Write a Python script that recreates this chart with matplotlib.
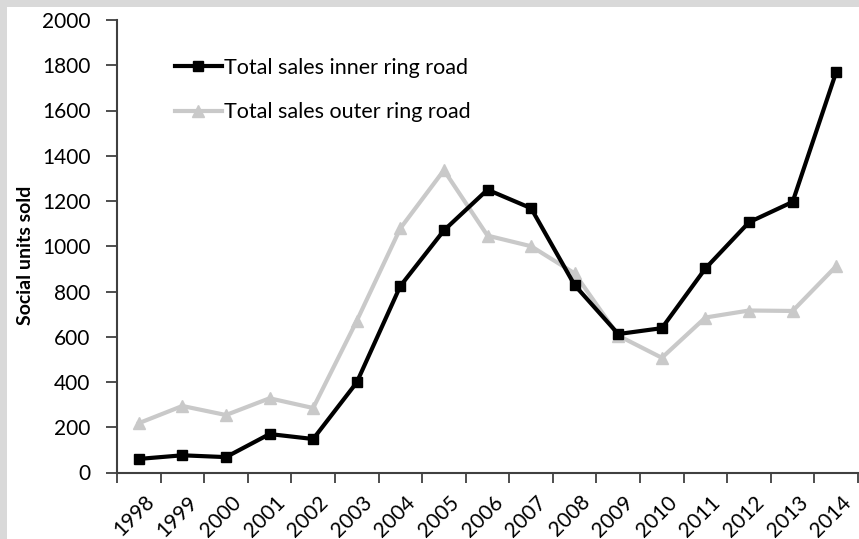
import matplotlib.pyplot as plt
import matplotlib.patches as mpatches
import matplotlib.transforms as mtransforms
import numpy as np

years = ["1998", "1999", "2000", "2001", "2002", "2003", "2004", "2005", "2006",
         "2007", "2008", "2009", "2010", "2011", "2012", "2013", "2014"]
inner = [60, 76, 68, 170, 148, 398, 824, 1070, 1250, 1168, 828, 612, 638, 902, 1106, 1196, 1770]
outer = [218, 294, 254, 328, 285, 670, 1079, 1336, 1047, 1000, 880, 605, 507, 685, 716, 714, 912]

plt.rcParams["font.family"] = ["Lato", "DejaVu Sans"]

fig = plt.figure(figsize=(8.59, 5.39), dpi=100)
fig.patch.set_facecolor("#d9d9d9")
fig.patches.append(mpatches.Rectangle((7 / 859, 0), 1, 1 - 7 / 539, transform=fig.transFigure,
                                      facecolor="white", edgecolor="none", zorder=-10))

ax = fig.add_axes([117 / 859, 1 - 472.5 / 539, 741 / 859, 452.5 / 539])
ax.patch.set_alpha(0)

x = np.arange(len(years))
ax.plot(x, outer, color="#c9c9c9", lw=3, marker="^", ms=8, label="Total sales outer ring road", zorder=2)
ax.plot(x, inner, color="black", lw=3, marker="s", ms=7, label="Total sales inner ring road", zorder=3)

ax.set_xlim(-0.5, len(years) - 0.5)
ax.set_ylim(0, 2000)
ax.set_yticks(range(0, 2001, 200))
ax.tick_params(axis="y", labelsize=15, length=8, width=1.3, color="#404040", pad=11)

ax.set_xticks(x)
ax.set_xticklabels(years, rotation=45, ha="right", rotation_mode="anchor", fontsize=15)
ax.set_xticks(np.arange(-0.5, len(years)), minor=True)
ax.tick_params(axis="x", which="major", length=0, pad=14)
ax.tick_params(axis="x", which="minor", length=7, width=1.3, color="#404040")
shift = mtransforms.ScaledTranslation(5 / 100, 0, fig.dpi_scale_trans)
for lab in ax.get_xticklabels():
    lab.set_transform(lab.get_transform() + shift)

for s in ["top", "right"]:
    ax.spines[s].set_visible(False)
for s in ["left", "bottom"]:
    ax.spines[s].set_color("#404040")
    ax.spines[s].set_linewidth(1.5)

ax.set_ylabel("Social units sold", fontsize=14, fontweight="bold")
ax.yaxis.set_label_coords(-0.112, 0.48)

h, l = ax.get_legend_handles_labels()
ax.legend(h[::-1], l[::-1], loc="upper left", bbox_to_anchor=(166 / 859, 1 - 49 / 539),
          bbox_transform=fig.transFigure, frameon=False, fontsize=15.5,
          handlelength=2.2, handletextpad=0.1, labelspacing=1.15, borderaxespad=0)

fig.savefig("out.png", dpi=100, facecolor=fig.get_facecolor())
